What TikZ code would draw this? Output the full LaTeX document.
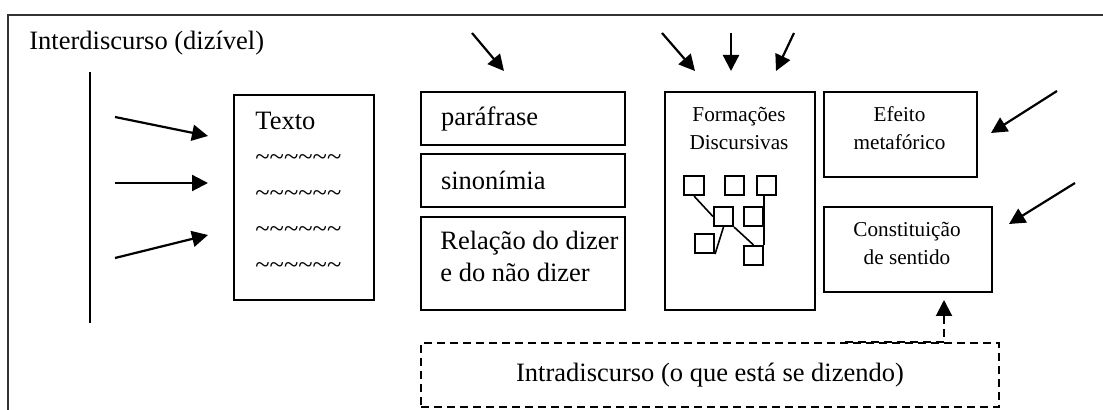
\documentclass[tikz,border=0pt]{standalone}
\usepackage{fontspec}
\setmainfont{Liberation Serif}
\usetikzlibrary{arrows.meta}
\newcommand{\linhatil}{\textasciitilde\textasciitilde\textasciitilde\textasciitilde\textasciitilde\textasciitilde}
\tikzset{
	caixa/.style={draw, line width=1pt, inner sep=0pt, font=\fontsize{13.25}{16}\selectfont},
	pequena/.style={caixa, align=center, font=\fontsize{10.6}{14}\selectfont},
	quad/.style={draw, line width=0.8pt, minimum size=9.75pt, inner sep=0pt},
	seta/.style={-{Triangle[length=8pt,width=8pt]}, line width=1.1pt},
	tracejada/.style={dashed, dash pattern=on 4pt off 2.5pt, line width=1pt}
}

\begin{document}
\begin{tikzpicture}[x=0.5pt, y=-0.5pt]
	\useasboundingbox (0,0) rectangle (1103,410);
	\draw [line width=0.8pt, black!80] (8,430) -- (8,15) -- (1120,15);
	\node [anchor=west, font=\fontsize{13.25}{16}\selectfont, inner sep=0pt] (inter) at (29,43) {Interdiscurso (dizível)};

	\coordinate (topo) at (90,72);
	\coordinate (base) at (90,323);
	\draw [line width=1pt] (topo) -- (base);

	\node [caixa, anchor=north west, minimum width=70pt, minimum height=102.5pt] (texto) at (233,94) {};
	\node [anchor=north west, inner sep=0pt, align=left, font=\fontsize{13.25}{17.5}\selectfont] (textotxt) at (255,112) {Texto\\[0.5pt]\linhatil\\[0.5pt]\linhatil\\[0.5pt]\linhatil\\[0.5pt]\linhatil};

	\node [caixa, anchor=north west, minimum height=26.5pt, text width=82pt, inner xsep=10pt, align=left] (para) at (420,91) {paráfrase};
	\node [caixa, anchor=north west, minimum height=26.5pt, text width=82pt, inner xsep=10pt, align=left] (sino) at (420,153) {sinonímia};
	\node [caixa, anchor=north west, minimum width=102pt, minimum height=46.5pt] (rel) at (420,216) {};
	\node [anchor=north west, inner sep=0pt, align=left, font=\fontsize{13.25}{16}\selectfont] (reltxt) at (440,231) {Relação do dizer\\e do não dizer};

	\node [caixa, anchor=north west, minimum width=75pt, minimum height=109pt] (fd) at (664,91) {};
	\node [align=center, font=\fontsize{10.6}{14}\selectfont, inner sep=0pt] (fdtxt) at (739,128) {Formações\\Discursivas};

	\node [caixa, anchor=north west, minimum width=76.5pt, minimum height=42.5pt] (efeito) at (823,91) {};
	\node [align=center, font=\fontsize{10.6}{14}\selectfont, inner sep=0pt] (efeitotxt) at (899.5,128) {Efeito\\metafórico};
	\node [caixa, anchor=north west, minimum width=84pt, minimum height=42.5pt] (cons) at (823,206) {};
	\node [align=center, font=\fontsize{10.6}{14}\selectfont, inner sep=0pt] (constxt) at (907,243) {Constituição\\de sentido};

	\node [caixa, tracejada, anchor=north west, minimum width=289pt, minimum height=32pt] (intra) at (420,342) {Intradiscurso (o que está se dizendo)};

	\node [quad] (q1) at (694,185.5) {};
	\node [quad] (q2) at (734.5,185.5) {};
	\node [quad] (q3) at (766.5,185.5) {};
	\node [quad] (q4) at (723.5,216.5) {};
	\node [quad] (q5) at (753.5,216.5) {};
	\node [quad] (q6) at (704.5,243.5) {};
	\node [quad] (q7) at (753.5,255.5) {};
	\draw [line width=0.8pt] (q1.south) -- (q4.west);
	\draw [line width=0.8pt] (q4.south) -- (q6.south east);
	\draw [line width=0.8pt] (q4.south east) -- (q7.north);
	\draw [line width=0.8pt] (q3.south -| q7.east) -- (q7.north east);

	\coordinate (e1) at (115,117);
	\coordinate (e2) at (115,183);
	\coordinate (e3) at (115,258);
	\coordinate (f1) at (208,136);
	\coordinate (f2) at (208,183);
	\coordinate (f3) at (208,235);
	\draw [seta] (e1) -- (f1);
	\draw [seta] (e2) -- (f2);
	\draw [seta] (e3) -- (f3);

	\coordinate (p1) at (472,33);
	\coordinate (p2) at (504,71);
	\draw [seta] (p1) -- (p2);

	\coordinate (g1) at (662,33);
	\coordinate (g2) at (695,71);
	\coordinate (h1) at (731,33);
	\coordinate (h2) at (731,71);
	\coordinate (k1) at (794,33);
	\coordinate (k2) at (776,71);
	\draw [seta] (g1) -- (g2);
	\draw [seta] (h1) -- (h2);
	\draw [seta] (k1) -- (k2);

	\coordinate (m1) at (1057,91);
	\coordinate (m2) at (991,133);
	\coordinate (n1) at (1075,183);
	\coordinate (n2) at (1009,224);
	\draw [seta] (m1) -- (m2);
	\draw [seta] (n1) -- (n2);

	\coordinate (ini) at (845,342);
	\coordinate (fim) at (944,300);
	\draw [seta, tracejada] (ini) -| (fim);
\end{tikzpicture}
\end{document}
